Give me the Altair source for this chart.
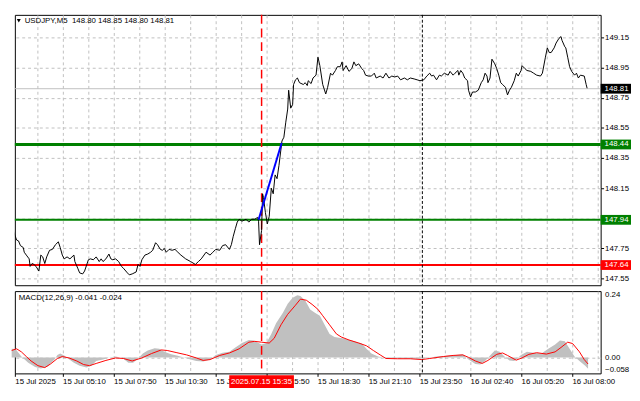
import altair as alt
import pandas as pd

# ---------------- data ----------------
price_bar = [0, 1.2, 3.1, 4.3, 5.5, 7.3, 7.9, 9.2, 11.0, 11.6, 12.8, 14.0, 15.3, 17.1, 18.3, 19.5, 20.8, 22.0,
             23.8, 25.6, 27.5, 29.3, 30.5, 31.8, 33.0, 34.8, 36.6, 39.1, 39.7, 41.5, 42.7, 44.6, 45.8, 48.2,
             49.5, 51.3, 53.1, 55.0, 56.2, 57.4, 59.2, 61.1, 62.3, 63.5, 65.3, 67.2, 69.0, 70.2, 72.7, 73.9,
             75.7, 78.2, 79.4, 80.6, 81.8, 83.7, 85.5, 87.3, 88.6, 90.4, 91.6, 93.4, 94.7, 95.9, 97.1, 98.9,
             100.8, 102.6, 104.4, 106.3, 109.3, 112.4, 115.4, 117.3, 119.1, 122.1, 124.6, 126.4, 128.2, 130.7,
             132.5, 134.4, 136.8, 138.0, 139.2, 140.5, 141.7, 142.9, 144.7, 147.2, 149.0, 150.8, 152.7, 154.5,
             155.1, 155.7, 157.0, 157.6, 158.2, 159.4, 160.6, 161.8, 163.1, 164.3, 165.5, 166.7, 167.9, 169.8,
             171.0, 172.2, 173.4, 174.0, 175.3, 176.5, 177.1, 178.3, 179.5, 180.8, 183.2, 184.4, 185.7, 186.3,
             188.1, 189.3, 191.2, 192.4, 193.6, 195.4, 197.3, 198.5, 200.3, 201.5, 203.4, 204.6, 206.4, 207.6,
             208.2, 210.1, 211.9, 213.7, 215.0, 216.2, 218.0, 219.9, 221.1, 222.3, 224.1, 226.0, 227.8, 229.0,
             231.5, 233.3, 235.1, 237.0, 238.8, 240.6, 242.5, 244.3, 246.7, 248.6, 250.4, 252.8, 254.7, 256.5,
             258.9, 260.8, 262.6, 263.8, 265.0, 266.9, 268.7, 269.9, 271.8, 274.2, 275.4, 277.3, 278.5, 280.3,
             280.9, 282.1, 283.4, 284.6, 286.4, 287.0, 288.3, 289.5, 291.3, 293.1, 295.0, 296.2, 297.4, 298.6,
             299.2, 300.5, 301.7, 303.5, 304.7, 306.0, 307.2, 308.4, 310.2, 311.5, 312.7, 313.9, 315.7, 317.0,
             318.2, 320.0, 320.6, 322.4, 323.7, 326.1, 327.9, 329.8, 332.2, 333.4, 335.3, 336.5, 337.7, 338.9,
             340.8, 342.0, 343.8, 345.1, 345.7, 347.5, 348.1, 349.3, 350.5, 351.8, 353.6, 354.8, 356.0, 357.3,
             359.7, 360.9, 361.5]
price_val = [147.886, 147.863, 147.806, 147.800, 147.769, 147.756, 147.725, 147.706, 147.681, 147.631, 147.650,
             147.644, 147.631, 147.600, 147.706, 147.694, 147.650, 147.694, 147.738, 147.744, 147.775, 147.794,
             147.756, 147.706, 147.681, 147.694, 147.681, 147.706, 147.663, 147.619, 147.588, 147.581, 147.600,
             147.675, 147.681, 147.675, 147.694, 147.663, 147.681, 147.663, 147.681, 147.713, 147.681, 147.675,
             147.681, 147.663, 147.631, 147.619, 147.588, 147.575, 147.581, 147.594, 147.644, 147.631, 147.675,
             147.706, 147.713, 147.725, 147.738, 147.788, 147.775, 147.744, 147.738, 147.750, 147.725, 147.744,
             147.738, 147.744, 147.725, 147.706, 147.681, 147.663, 147.644, 147.663, 147.681, 147.725, 147.706,
             147.725, 147.744, 147.738, 147.769, 147.775, 147.744, 147.775, 147.831, 147.881, 147.925, 147.944,
             147.931, 147.944, 147.925, 147.944, 147.944, 147.956, 147.931, 147.775, 147.869, 148.113, 148.088,
             147.988, 147.913, 147.963, 148.150, 148.113, 148.238, 148.213, 148.300, 148.463, 148.488, 148.588,
             148.675, 148.800, 148.681, 148.706, 148.838, 148.869, 148.881, 148.850, 148.838, 148.850, 148.831,
             148.863, 148.844, 148.881, 148.900, 149.019, 148.963, 148.838, 148.775, 148.819, 148.913, 148.900,
             148.931, 148.956, 148.956, 148.988, 148.931, 148.963, 148.925, 148.944, 148.988, 148.963, 148.975,
             148.944, 148.931, 148.900, 148.894, 148.894, 148.913, 148.881, 148.894, 148.881, 148.913, 148.881,
             148.894, 148.888, 148.894, 148.869, 148.881, 148.869, 148.881, 148.875, 148.869, 148.863, 148.869,
             148.894, 148.913, 148.894, 148.900, 148.869, 148.900, 148.894, 148.913, 148.900, 148.925, 148.900,
             148.913, 148.931, 148.900, 148.931, 148.913, 148.881, 148.863, 148.800, 148.756, 148.788, 148.788,
             148.800, 148.850, 148.869, 148.913, 148.894, 148.850, 148.881, 149.006, 148.975, 148.944, 148.900,
             148.850, 148.838, 148.819, 148.769, 148.800, 148.819, 148.863, 148.913, 148.894, 148.931, 148.963,
             148.944, 148.931, 148.925, 148.913, 148.900, 148.894, 148.913, 149.019, 149.081, 149.050, 149.050,
             149.081, 149.113, 149.144, 149.156, 149.131, 149.088, 149.081, 149.019, 148.956, 148.925, 148.900,
             148.913, 148.881, 148.900, 148.894, 148.838, 148.813]

hist_bar = [0, 2.4, 6.1, 10.4, 14.7, 18.3, 22.6, 26.9, 28.7, 30.5, 33.0, 36.0, 39.1, 42.7, 47.0, 50.1, 53.1,
            57.4, 61.1, 65.3, 69.6, 73.3, 76.3, 79.4, 82.4, 85.5, 89.8, 92.8, 95.9, 100.2, 103.8, 108.1, 112.4,
            116.0, 120.3, 124.6, 128.2, 132.5, 136.8, 140.5, 144.7, 149.0, 152.1, 155.1, 157.0, 160.0, 163.1,
            166.1, 170.4, 173.4, 176.5, 179.5, 181.4, 184.4, 187.5, 190.5, 193.6, 196.6, 199.7, 202.8, 207.6,
            213.7, 219.9, 222.9, 226.0, 230.2, 234.5, 242.5, 254.7, 260.8, 266.9, 279.1, 283.4, 287.0, 291.3,
            294.4, 297.4, 301.7, 303.5, 306.6, 309.6, 312.7, 315.7, 320.0, 323.7, 327.9, 332.8, 337.1, 341.4,
            344.4, 347.5, 350.5, 353.6, 356.7, 360.3, 362.1]
hist_val = [0.031, 0.030, 0.003, -0.019, -0.035, -0.040, -0.033, -0.008, 0.009, 0.014, 0.007, -0.007, -0.019,
            -0.030, -0.037, -0.030, -0.013, -0.008, 0.000, 0.003, -0.002, -0.019, -0.019, -0.004, 0.014, 0.025,
            0.033, 0.031, 0.020, 0.011, 0.007, 0.000, -0.008, -0.013, -0.015, -0.008, 0.009, 0.017, 0.020, 0.036,
            0.052, 0.063, 0.061, 0.052, 0.047, 0.052, 0.085, 0.124, 0.162, 0.194, 0.216, 0.225, 0.222, 0.206,
            0.173, 0.162, 0.151, 0.118, 0.085, 0.074, 0.069, 0.061, 0.050, 0.031, 0.014, 0.003, -0.002, -0.004,
            -0.005, -0.002, 0.003, 0.009, 0.011, -0.008, -0.024, -0.026, -0.013, 0.014, 0.025, 0.020, 0.003,
            -0.011, -0.013, 0.009, 0.020, 0.017, 0.014, 0.031, 0.047, 0.061, 0.058, 0.031, 0.003, -0.013, -0.030,
            -0.041]

signal_bar = [0, 3.1, 6.1, 9.2, 12.2, 16.5, 20.8, 24.4, 28.7, 31.8, 36.0, 40.9, 45.2, 48.9, 53.1, 59.2, 65.3,
              70.2, 75.7, 81.8, 87.9, 94.0, 97.7, 103.8, 109.9, 116.0, 120.3, 124.6, 130.7, 136.8, 142.9, 149.0,
              152.7, 157.0, 161.8, 164.9, 169.2, 173.4, 178.3, 181.4, 185.1, 188.7, 192.4, 195.4, 199.7, 204.0,
              207.0, 211.9, 218.0, 222.9, 227.2, 231.5, 235.1, 242.5, 250.4, 257.7, 262.6, 271.2, 277.3, 283.4,
              287.0, 291.3, 295.6, 299.2, 304.7, 308.4, 311.5, 316.9, 320.6, 324.9, 329.8, 335.9, 341.4, 345.1,
              349.3, 352.4, 356.7, 359.7, 362.1]
signal_val = [0.025, 0.031, 0.020, 0.003, -0.013, -0.030, -0.037, -0.024, -0.004, 0.003, -0.002, -0.013, -0.026,
              -0.030, -0.022, -0.011, -0.002, -0.004, -0.013, -0.002, 0.014, 0.027, 0.025, 0.017, 0.009, -0.002,
              -0.011, -0.008, 0.007, 0.016, 0.031, 0.055, 0.058, 0.055, 0.052, 0.069, 0.118, 0.156, 0.189, 0.211,
              0.207, 0.192, 0.174, 0.151, 0.118, 0.085, 0.074, 0.063, 0.052, 0.042, 0.025, 0.009, -0.004, -0.005,
              -0.005, -0.008, -0.004, 0.003, 0.007, 0.009, 0.000, -0.013, -0.022, -0.011, 0.011, 0.016, 0.007,
              -0.010, -0.002, 0.011, 0.017, 0.012, 0.020, 0.036, 0.055, 0.050, 0.020, -0.008, -0.024]

blue_bar = [155.1, 169.6]
blue_val = [147.94, 148.45]

level_val = [148.81, 148.44, 147.94, 147.64]
level_text = ["148.81", "148.44", "147.94", "147.64"]
level_line_color = ["#c0c0c0", "#008000", "#008000", "#ff0000"]
level_box_color = ["#000000", "#008000", "#008000", "#ff0000"]
level_width = [1, 3, 2, 2]

price_ticks = [147.55, 147.75, 147.95, 148.15, 148.35, 148.55, 148.75, 148.95, 149.15]
macd_ticks = [-0.058, 0.0, 0.24]

xlabel_bar = [2, 32, 64, 96, 128, 160, 192, 224, 256, 288, 320, 352]
xlabel_text = ["15 Jul 2025", "15 Jul 05:10", "15 Jul 07:50", "15 Jul 10:30", "15 Jul 13:10", "15 Jul 15:50",
               "15 Jul 18:30", "15 Jul 21:10", "15 Jul 23:50", "16 Jul 02:40", "16 Jul 05:20", "16 Jul 08:00"]
grid_bar = list(range(16, 369, 16))

marker_bar = [157]
marker_label = ["2025.07.15 15:35"]
day_sep_bar = [258]

title_text = "USDJPY,M5\u00a0\u00a0148.80 148.85 148.80 148.81"
macd_text = "MACD(12,26,9) -0.041 -0.024"

# ---------------- layout / style ----------------
W = 598
H_MAIN = 276
H_MACD = 84
FONT = "Liberation Sans"
FS = 8
GRID = "#c0c0c0"
PAD = {"left": 1, "top": 1, "right": 0, "bottom": 0}

xscale = alt.Scale(domain=[2, 370], nice=False, zero=False)
pscale = alt.Scale(domain=[147.506, 149.30], nice=False, zero=False)
mscale = alt.Scale(domain=[-0.058, 0.24], nice=False, zero=False)

main_xaxis = alt.Axis(values=grid_bar, labels=False, ticks=False, domain=False, grid=True,
                      gridColor=GRID, gridDash=[3, 3], title=None, maxExtent=0, minExtent=0)

lab_expr = "''"
for b, t in reversed(list(zip(xlabel_bar, xlabel_text))):
    lab_expr = f"datum.value == {b} ? '{t}' : ({lab_expr})"
is_label = f"indexof({xlabel_bar}, datum.value) >= 0"

macd_xaxis = alt.Axis(values=sorted(set(xlabel_bar + grid_bar)), labelExpr=lab_expr, labelAlign="left",
                      labelOverlap=False, labelBound=False, labelFlush=False, labelFont=FONT,
                      labelFontSize=FS, labelColor="#000", labelPadding=1, tickSize=3, tickColor="#000",
                      tickOpacity={"condition": {"test": is_label, "value": 1}, "value": 0},
                      grid=True, gridColor=GRID, gridDash=[3, 3],
                      gridOpacity={"condition": {"test": "datum.value > 3", "value": 1}, "value": 0},
                      domain=False, title=None)

price_axis = alt.Axis(orient="right", values=price_ticks,
                      labelExpr="abs(datum.value - 147.95) < 0.001 ? '' : format(datum.value, '.2f')",
                      grid=True, gridColor=GRID, gridDash=[3, 3], tickSize=3, tickColor="#000",
                      labelPadding=1, labelFont=FONT, labelFontSize=FS, labelColor="#000",
                      domain=False, title=None, labelOverlap=False)

macd_axis = alt.Axis(orient="right", values=macd_ticks,
                     labelExpr="datum.value == 0 ? '0.00' : (datum.value < 0 ? format(datum.value, '.3f') : format(datum.value, '.2f'))",
                     grid=True, gridColor=GRID, gridDash=[3, 3],
                     gridOpacity={"condition": {"test": "datum.value == 0", "value": 1}, "value": 0},
                     tickSize=0, labelPadding=4, labelFont=FONT, labelFontSize=FS, labelColor="#000",
                     labelFlush=True, domain=False, title=None, labelOverlap=False)


def X(field="bar", axis=main_xaxis):
    return alt.X(f"{field}:Q", scale=xscale, axis=axis, title=None)


def P(field="price"):
    return alt.Y(f"{field}:Q", scale=pscale, axis=price_axis, title=None)


def M(field="v"):
    return alt.Y(f"{field}:Q", scale=mscale, axis=macd_axis, title=None)


price_df = pd.DataFrame({"bar": price_bar, "price": price_val})
blue_df = pd.DataFrame({"bar": blue_bar, "price": blue_val})
level_df = pd.DataFrame({"price": level_val, "txt": level_text, "lc": level_line_color,
                         "bc": level_box_color, "w": level_width})
marker_df = pd.DataFrame({"bar": marker_bar, "txt": marker_label})
day_df = pd.DataFrame({"bar": day_sep_bar})
hist_df = pd.DataFrame({"bar": hist_bar, "v": hist_val})
sig_df = pd.DataFrame({"bar": signal_bar, "v": signal_val})

# ---------------- main price panel ----------------
base_grid = alt.Chart(price_df).mark_line(opacity=0).encode(x=X(), y=P())

levels = alt.Chart(level_df).mark_rule().encode(
    y=P(), color=alt.Color("lc:N", scale=None), strokeWidth=alt.StrokeWidth("w:Q", scale=None))

red_dash = alt.Chart(marker_df).mark_rule(color="#ff0000", strokeDash=[9, 5], strokeWidth=1.5).encode(x=X())
day_line = alt.Chart(day_df).mark_rule(color="#000000", strokeDash=[3, 2], strokeWidth=1).encode(x=X())

price_line = alt.Chart(price_df).mark_line(color="#000000", strokeWidth=1, clip=True).encode(x=X(), y=P())
blue_line = alt.Chart(blue_df).mark_line(color="#0000ff", strokeWidth=2).encode(x=X(), y=P())

boxes = alt.Chart(level_df).mark_rect(yOffset=-5, y2Offset=5).encode(
    y=P(), y2=alt.Y2("price"), x=alt.value(W), x2=alt.value(W + 31), color=alt.Color("bc:N", scale=None))
box_text = alt.Chart(level_df).mark_text(align="left", baseline="middle", font=FONT, fontSize=FS,
                                         color="#ffffff").encode(y=P(), x=alt.value(W + 4), text="txt:N")

title_tri = alt.Chart(pd.DataFrame({"t": [1]})).mark_point(shape="triangle-down", filled=True, size=16,
                                                           color="#000000", opacity=1).encode(
    x=alt.value(4), y=alt.value(6))
title_txt = alt.Chart(pd.DataFrame({"t": [title_text]})).mark_text(
    align="left", baseline="middle", font=FONT, fontSize=FS, color="#000000").encode(
    x=alt.value(10), y=alt.value(6), text="t:N")

main = alt.layer(base_grid, levels, red_dash, day_line, price_line, blue_line, boxes, box_text,
                 title_tri, title_txt).properties(width=W, height=H_MAIN)

# ---------------- MACD panel ----------------
mx = lambda: X(axis=macd_xaxis)

hist = alt.Chart(hist_df).mark_area(color="#c0c0c0", opacity=1).encode(
    x=mx(), y=M(), y2=alt.Y2(datum=0))
sig = alt.Chart(sig_df).mark_line(color="#ff0000", strokeWidth=1).encode(x=mx(), y=M())
red_dash2 = alt.Chart(marker_df).mark_rule(color="#ff0000", strokeDash=[9, 5], strokeWidth=1.5).encode(x=mx())
day_line2 = alt.Chart(day_df).mark_rule(color="#000000", strokeDash=[3, 2], strokeWidth=1).encode(x=mx())
macd_lbl = alt.Chart(pd.DataFrame({"t": [macd_text]})).mark_text(
    align="left", baseline="middle", font=FONT, fontSize=FS, color="#000000").encode(
    x=alt.value(4), y=alt.value(7), text="t:N")
mark_box = alt.Chart(marker_df).mark_rect(color="#ff0000", xOffset=-33, x2Offset=33).encode(
    x=mx(), x2=alt.X2("bar"), y=alt.value(H_MACD + 2), y2=alt.value(H_MACD + 15))
mark_txt = alt.Chart(marker_df).mark_text(align="center", baseline="middle", font=FONT, fontSize=FS,
                                          color="#ffffff").encode(
    x=mx(), y=alt.value(H_MACD + 8.5), text="txt:N")

macd = alt.layer(hist, sig, red_dash2, day_line2, macd_lbl, mark_box, mark_txt).properties(
    width=W, height=H_MACD)

chart = alt.VConcatChart(vconcat=[main, macd], spacing=2, padding=PAD, background="#ffffff") \
    .configure(padding=PAD) \
    .configure_view(stroke="#000000", strokeWidth=1)

chart.save("out.html", embed_options={"renderer": "svg", "actions": False})
